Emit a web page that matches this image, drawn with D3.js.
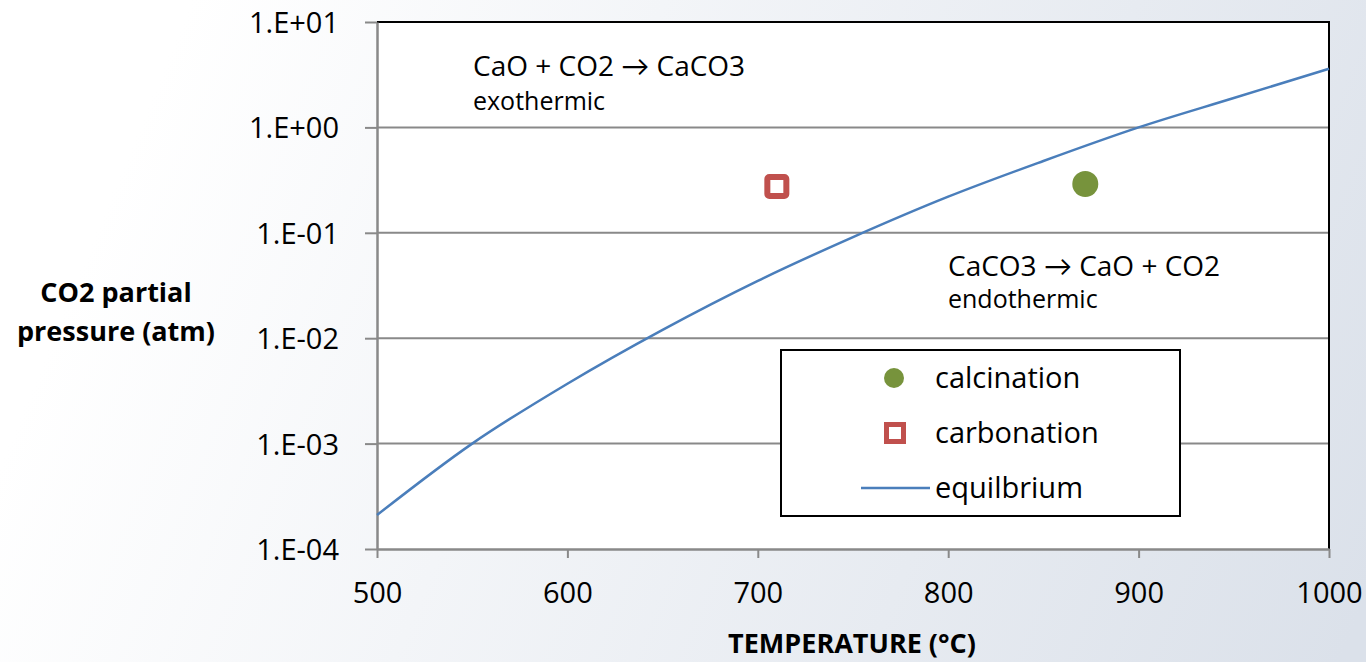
<!DOCTYPE html>
<html>
<head>
<meta charset="utf-8">
<script src="https://cdn.jsdelivr.net/npm/d3@7"></script>
<style>
  html, body { margin: 0; padding: 0; }
  body { width: 1366px; height: 662px; overflow: hidden; }
  svg text { font-family: "Open Sans", Lato, sans-serif; fill: #000; }
</style>
</head>
<body>
<svg id="chart" width="1366" height="662"></svg>
<script>
// equilibrium curve
var eqTemps = [500, 550, 600, 650, 700, 750, 800, 850, 900, 950, 1000]
var eqPressures = [2.1e-4, 1.0e-3, 3.7e-3, 1.2e-2, 3.5e-2, 9.1e-2, 0.22, 0.48, 1.0, 1.9, 3.6]

// measured points
var calcination = [{t: 872, p: 0.29}]
var carbonation = [{t: 710, p: 0.275}]

var xTicks = [500, 600, 700, 800, 900, 1000]
var yTicks = [1e-4, 1e-3, 1e-2, 1e-1, 1, 10]
var yTickLabels = ["1.E-04", "1.E-03", "1.E-02", "1.E-01", "1.E+00", "1.E+01"]

var legendItems = ["calcination", "carbonation", "equilbrium"]

var svg = d3.select("#chart")

// background gradient
var defs = svg.append("defs")
var grad = defs.append("linearGradient").attr("id", "bg")
    .attr("gradientUnits", "userSpaceOnUse")
    .attr("x1", 150).attr("y1", 100).attr("x2", 1366).attr("y2", 600)
grad.append("stop").attr("offset", "0").attr("stop-color", "#ffffff")
grad.append("stop").attr("offset", "1").attr("stop-color", "#dbe1ea")
svg.append("rect").attr("width", 1366).attr("height", 662).attr("fill", "url(#bg)")

var plotLeft = 377, plotRight = 1329, plotTop = 22, plotBottom = 549

var xScale = d3.scaleLinear().domain([500, 1000]).range([plotLeft, plotRight])
var yScale = d3.scaleLog().domain([1e-4, 10]).range([plotBottom, plotTop])

// plot area
svg.append("rect")
    .attr("x", plotLeft).attr("y", plotTop)
    .attr("width", plotRight - plotLeft).attr("height", plotBottom - plotTop)
    .attr("fill", "#fff")

// grid lines
svg.append("g").selectAll("line")
    .data(yTicks.slice(1, -1))
    .enter().append("line")
    .attr("x1", plotLeft).attr("x2", plotRight)
    .attr("y1", function(d) { return yScale(d) })
    .attr("y2", function(d) { return yScale(d) })
    .attr("stroke", "#898989").attr("stroke-width", 2)

// top and right border
svg.append("path")
    .attr("d", "M" + plotLeft + "," + plotTop + "H" + plotRight + "V" + plotBottom)
    .attr("fill", "none").attr("stroke", "#000").attr("stroke-width", 2)

// axes
var xAxis = svg.append("g")
    .attr("transform", "translate(0," + plotBottom + ")")
    .call(d3.axisBottom(xScale).tickValues(xTicks).tickSize(9).tickPadding(24).tickSizeOuter(0)
        .tickFormat(d3.format("d")))
var yAxis = svg.append("g")
    .attr("transform", "translate(" + plotLeft + ",0)")
    .call(d3.axisLeft(yScale).tickValues(yTicks).tickSize(12).tickPadding(26).tickSizeOuter(0)
        .tickFormat(function(d, i) { return yTickLabels[i] }))

;[xAxis, yAxis].forEach(function(ax) {
    ax.select(".domain").attr("stroke", "#898989").attr("stroke-width", 2.5)
    ax.selectAll(".tick line").attr("stroke", "#898989").attr("stroke-width", 2)
    ax.selectAll(".tick text").style("font-size", "29px").attr("fill", "#000")
})
xAxis.selectAll(".tick text").attr("dy", "0.71em")
yAxis.selectAll(".tick text").attr("dy", "0.36em")

// equilibrium line
var line = d3.line()
    .x(function(d) { return xScale(d[0]) })
    .y(function(d) { return yScale(d[1]) })
    .curve(d3.curveMonotoneX)
svg.append("path")
    .datum(eqTemps.map(function(t, i) { return [t, eqPressures[i]] }))
    .attr("d", line)
    .attr("fill", "none").attr("stroke", "#4a7ebb").attr("stroke-width", 2.5)

// points
svg.selectAll(".calc").data(calcination).enter()
    .append("circle").attr("class", "calc")
    .attr("cx", function(d) { return xScale(d.t) })
    .attr("cy", function(d) { return yScale(d.p) })
    .attr("r", 13).attr("fill", "#77933c")
svg.selectAll(".carb").data(carbonation).enter()
    .append("rect").attr("class", "carb")
    .attr("x", function(d) { return xScale(d.t) - 9.5 })
    .attr("y", function(d) { return yScale(d.p) - 9.5 })
    .attr("width", 19).attr("height", 19).attr("rx", 2)
    .attr("fill", "#fff").attr("stroke", "#c0504d").attr("stroke-width", 6)

// annotations
var ann1 = svg.append("text").attr("x", 473).attr("y", 76)
ann1.append("tspan").style("font-size", "28px").text("CaO + CO2 \u2192 CaCO3")
ann1.append("tspan").attr("x", 473).attr("dy", 34).style("font-size", "25px").text("exothermic")
var ann2 = svg.append("text").attr("x", 948).attr("y", 276)
ann2.append("tspan").style("font-size", "28px").text("CaCO3 \u2192 CaO + CO2")
ann2.append("tspan").attr("x", 948).attr("dy", 32).style("font-size", "25px").text("endothermic")

// legend
var legend = svg.append("g").attr("transform", "translate(781,350)")
legend.append("rect").attr("width", 399).attr("height", 166)
    .attr("fill", "#fff").attr("stroke", "#000").attr("stroke-width", 2)
legend.append("circle").attr("cx", 113).attr("cy", 28).attr("r", 10).attr("fill", "#77933c")
legend.append("rect").attr("x", 105.5).attr("y", 74.5).attr("width", 17).attr("height", 17)
    .attr("fill", "#fff").attr("stroke", "#c0504d").attr("stroke-width", 5)
legend.append("line").attr("x1", 80).attr("x2", 149).attr("y1", 138).attr("y2", 138)
    .attr("stroke", "#4a7ebb").attr("stroke-width", 2.5)
legend.selectAll(".leg").data(legendItems).enter()
    .append("text").attr("class", "leg")
    .attr("x", 154).attr("y", function(d, i) { return 28 + i * 55 })
    .attr("dy", "0.35em").style("font-size", "29px")
    .text(function(d) { return d })

// axis titles
var yTitle = svg.append("text").attr("text-anchor", "middle")
    .style("font-size", "27px").style("font-weight", "bold")
yTitle.append("tspan").attr("x", 116).attr("y", 302).text("CO2 partial")
yTitle.append("tspan").attr("x", 116).attr("y", 341).text("pressure (atm)")
svg.append("text").attr("x", 852).attr("y", 653).attr("text-anchor", "middle")
    .style("font-size", "27px").style("font-weight", "bold")
    .text("TEMPERATURE  (\u00B0C)")
</script>
</body>
</html>
